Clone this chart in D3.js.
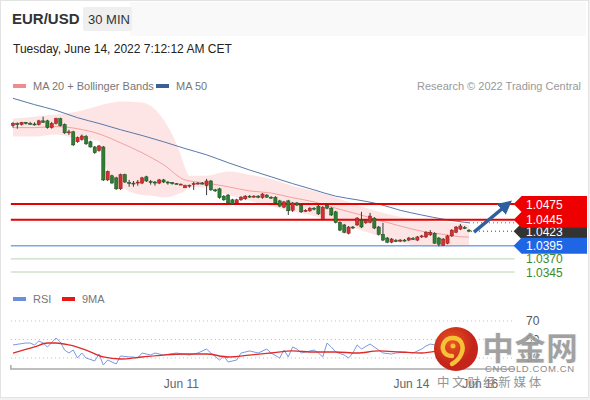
<!DOCTYPE html>
<html lang="en">
<head>
<meta charset="UTF-8" />
<title>EUR/USD 30 MIN</title>
<script src="https://d3js.org/d3.v7.min.js"></script>
<style>
  body { margin: 0; background: #f2f2f2; font-family: "Liberation Sans", Arial, sans-serif; }
  svg { display: block; }
</style>
</head>
<body>
<svg id="chart" width="590" height="400"></svg>
<script>
// 30 min candles, red = up, green = down
const opens = [
  1.0625,1.0629,1.0627,1.0631,1.0629,1.0628,1.0627,1.0634,1.0634,1.0621,
  1.0629,1.0638,1.0627,1.0612,1.0613,1.0594,1.0598,1.0604,1.0594,1.0584,
  1.0577,1.0584,1.0521,1.0529,1.0525,1.0504,1.0531,1.0516,1.0515,1.0515,
  1.0515,1.0527,1.0518,1.0517,1.0515,1.0521,1.0517,1.0516,1.0514,1.0513,
  1.0506,1.0510,1.0512,1.0514,1.0515,1.0510,1.0519,1.0502,1.0504,1.0490,
  1.0492,1.0483,1.0477,1.0483,1.0485,1.0490,1.0489,1.0490,1.0487,1.0492,
  1.0488,1.0488,1.0481,1.0469,1.0481,1.0463,1.0477,1.0473,1.0462,1.0462,
  1.0467,1.0471,1.0446,1.0473,1.0467,1.0460,1.0440,1.0435,1.0419,1.0431,
  1.0435,1.0444,1.0439,1.0440,1.0448,1.0431,1.0417,1.0410,1.0402,1.0405,
  1.0404,1.0406,1.0406,1.0409,1.0406,1.0413,1.0412,1.0416,1.0419,1.0410,
  1.0396,1.0400,1.0414,1.0421,1.0427,1.0430,1.0425];
const highs = [
  1.0632,1.0631,1.0632,1.0632,1.0632,1.0631,1.0636,1.0642,1.0636,1.0632,
  1.0640,1.0640,1.0629,1.0617,1.0615,1.0604,1.0608,1.0607,1.0596,1.0586,
  1.0588,1.0586,1.0539,1.0531,1.0527,1.0533,1.0533,1.0521,1.0519,1.0521,
  1.0527,1.0529,1.0521,1.0519,1.0523,1.0523,1.0519,1.0517,1.0515,1.0514,
  1.0512,1.0512,1.0517,1.0517,1.0517,1.0523,1.0521,1.0504,1.0506,1.0492,
  1.0494,1.0485,1.0485,1.0490,1.0492,1.0492,1.0492,1.0492,1.0496,1.0494,
  1.0490,1.0490,1.0483,1.0481,1.0483,1.0479,1.0479,1.0475,1.0465,1.0469,
  1.0469,1.0473,1.0471,1.0475,1.0469,1.0462,1.0442,1.0437,1.0433,1.0433,
  1.0450,1.0460,1.0446,1.0458,1.0450,1.0433,1.0439,1.0412,1.0410,1.0408,
  1.0408,1.0408,1.0412,1.0412,1.0414,1.0416,1.0423,1.0425,1.0421,1.0412,
  1.0410,1.0416,1.0427,1.0433,1.0437,1.0433,1.0427];
const lows = [
  1.0621,1.0619,1.0625,1.0627,1.0627,1.0625,1.0625,1.0630,1.0619,1.0619,
  1.0627,1.0623,1.0609,1.0607,1.0586,1.0592,1.0596,1.0588,1.0583,1.0571,
  1.0575,1.0519,1.0519,1.0514,1.0502,1.0502,1.0515,1.0508,1.0508,1.0510,
  1.0513,1.0517,1.0512,1.0510,1.0513,1.0515,1.0512,1.0512,1.0513,1.0512,
  1.0506,1.0506,1.0502,1.0512,1.0512,1.0492,1.0500,1.0498,1.0485,1.0481,
  1.0475,1.0473,1.0475,1.0481,1.0483,1.0487,1.0487,1.0486,1.0485,1.0487,
  1.0485,1.0475,1.0469,1.0467,1.0454,1.0460,1.0471,1.0458,1.0460,1.0460,
  1.0463,1.0454,1.0444,1.0465,1.0452,1.0438,1.0423,1.0419,1.0417,1.0427,
  1.0433,1.0429,1.0437,1.0438,1.0427,1.0415,1.0404,1.0400,1.0400,1.0402,
  1.0402,1.0403,1.0404,1.0406,1.0404,1.0410,1.0410,1.0414,1.0399,1.0394,
  1.0395,1.0398,1.0412,1.0419,1.0425,1.0427,1.0421];
const closes = [
  1.0629,1.0627,1.0631,1.0629,1.0628,1.0627,1.0634,1.0631,1.0621,1.0629,
  1.0638,1.0625,1.0611,1.0613,1.0588,1.0602,1.0605,1.0590,1.0584,1.0573,
  1.0586,1.0521,1.0537,1.0515,1.0504,1.0531,1.0517,1.0515,1.0514,1.0517,
  1.0525,1.0519,1.0517,1.0515,1.0521,1.0517,1.0516,1.0514,1.0513,1.0513,
  1.0510,1.0511,1.0514,1.0515,1.0514,1.0519,1.0502,1.0501,1.0487,1.0483,
  1.0477,1.0475,1.0483,1.0488,1.0490,1.0489,1.0490,1.0488,1.0494,1.0488,
  1.0487,1.0477,1.0471,1.0479,1.0462,1.0477,1.0473,1.0460,1.0463,1.0467,
  1.0466,1.0456,1.0469,1.0467,1.0454,1.0440,1.0425,1.0421,1.0431,1.0429,
  1.0448,1.0431,1.0444,1.0452,1.0429,1.0417,1.0406,1.0402,1.0408,1.0404,
  1.0406,1.0405,1.0410,1.0408,1.0412,1.0414,1.0421,1.0421,1.0400,1.0398,
  1.0408,1.0414,1.0425,1.0431,1.0433,1.0429,1.0423];

// indicator readings (candle index -> value)
const bandIdx = [0,5,10,15,20,21,22,25,30,33,35,37,39,40,41,45,50,55,60,65,70,75,80,85,90,95,100,105,106];
const bandUpper = [1.0638,1.0642,1.0646,1.0652,1.0663,1.0665,1.0667,1.0671,1.0669,1.0656,1.0636,1.0608,1.0569,1.0544,1.0529,
  1.0529,1.0537,1.0531,1.0523,1.0510,1.0500,1.0488,1.0473,1.0460,1.0450,1.0444,1.0440,1.0437,1.0435];
const bandLower = [1.0604,1.0604,1.0608,1.0600,1.0596,1.0559,1.0537,1.0510,1.0492,1.0490,1.0488,1.0490,1.0496,1.0500,1.0508,
  1.0506,1.0492,1.0481,1.0471,1.0460,1.0452,1.0440,1.0427,1.0414,1.0402,1.0394,1.0392,1.0394,1.0394];
const maIdx = [0,5,10,15,20,25,30,35,40,45,50,55,60,65,70,75,80,85,90,95,100,105,106];
const ma20 = [1.0621,1.0621,1.0623,1.0619,1.0609,1.0592,1.0573,1.0550,1.0521,1.0515,1.0508,1.0500,1.0496,1.0487,1.0479,
  1.0467,1.0456,1.0444,1.0433,1.0423,1.0417,1.0412,1.0412];
const ma50 = [1.0677,1.0665,1.0654,1.0640,1.0629,1.0617,1.0606,1.0594,1.0581,1.0569,1.0554,1.0540,1.0527,1.0514,1.0502,
  1.0490,1.0483,1.0475,1.0463,1.0454,1.0446,1.0440,1.0439];

const rsiIdx = [0,3,4,5,6,7,8,10,11,12,13,14,15,16,17,19,20,21,22,24,25,27,28,29,30,32,33,35,38,41,43,45,46,48,49,50,
  52,53,55,57,59,60,62,63,64,65,66,67,70,71,72,73,74,75,77,78,79,80,81,83,85,86,88,89,91,93,95,96,97,98,
  100,102,104,106];
const rsi = [44.1,46.2,46.2,44.1,48.4,46.2,41.9,51.6,47.3,38.6,35.4,38.6,30.0,35.4,30.0,26.8,34.3,22.4,27.8,23.5,32.2,31.1,
  31.1,30.0,35.4,33.2,35.4,33.2,35.4,33.2,35.4,39.7,35.4,27.8,32.2,25.7,27.8,35.4,37.6,35.4,39.7,35.4,30.0,38.6,31.1,
  41.9,39.7,35.4,38.6,35.4,31.1,46.2,41.9,36.5,33.2,30.0,35.4,44.1,39.7,45.1,38.6,35.4,34.3,35.4,36.5,35.4,39.7,43.0,
  45.1,44.1,42.0,52.0,58.0,54.0];
const rsiMaIdx = [0,5,8,10,13,17,21,25,30,35,40,45,50,55,60,65,70,75,80,85,90,95,100,106];
const rsiMa = [35.4,41.9,46.2,46.2,44.1,38.6,31.1,28.9,31.1,33.2,34.3,34.3,31.1,33.2,35.4,37.6,36.5,36.5,35.4,37.6,
  36.5,35.4,38.6,43.0];
const rsiLevels = [70, 50, 30];

const levels = [1.0475, 1.0445, 1.0395, 1.0370, 1.0345];
const levelKind = ['res', 'res', 'sup', 'tgt', 'tgt'];
const lastPrice = 1.0423;
const tickAt = [39, 92.5, 108.5];
const tickLabels = ['Jun 11', 'Jun 14', 'Jun 16'];

const svg = d3.select('#chart');
const x = d3.scaleLinear().domain([0, 106]).range([13, 469]);
const y = d3.scaleLinear().domain([1.0345, 1.0475]).range([272, 204]);
const yr = d3.scaleLinear().domain([30, 70]).range([358, 321]);
const lineEnd = x(116.6);

// card
svg.append('rect').attr('x', 0.5).attr('y', 0.5).attr('width', 588).attr('height', 397)
  .attr('fill', '#fff').attr('stroke', '#e3e3e3');
svg.append('rect').attr('x', 130).attr('y', 2).attr('width', 456).attr('height', 34)
  .attr('fill', '#f6f6f6').attr('opacity', 0.7);

// header
svg.append('text').attr('x', 12).attr('y', 24).attr('font-size', 15).attr('font-weight', 'bold')
  .attr('fill', '#333').text('EUR/USD');
svg.append('rect').attr('x', 83).attr('y', 7).attr('width', 49).attr('height', 24).attr('rx', 2).attr('fill', '#efefef');
svg.append('text').attr('x', 88).attr('y', 24).attr('font-size', 13).attr('fill', '#333').text('30 MIN');
svg.append('text').attr('x', 13).attr('y', 53).attr('font-size', 12).attr('fill', '#222')
  .text('Tuesday, June 14, 2022 7:12:12 AM CET');

// legends
function legend(lx, ly, color, label) {
  svg.append('rect').attr('x', lx).attr('y', ly - 6).attr('width', 13).attr('height', 4).attr('fill', color);
  svg.append('text').attr('x', lx + 20).attr('y', ly).attr('font-size', 11).attr('fill', '#777').text(label);
}
legend(13, 90, '#f28b8b', 'MA 20 + Bollinger Bands');
legend(156, 90, '#3b5f99', 'MA 50');
svg.append('text').attr('x', 581).attr('y', 90).attr('text-anchor', 'end').attr('font-size', 11)
  .attr('fill', '#999').text('Research © 2022 Trading Central');
legend(13, 303, '#6b8fdc', 'RSI');
legend(62, 303, '#e81818', '9MA');

// bollinger band + MAs
const band = bandIdx.map((d, i) => ({ i: d, hi: bandUpper[i], lo: bandLower[i] }));
svg.append('path').datum(band)
  .attr('fill', '#fde0e0').attr('opacity', 0.85)
  .attr('d', d3.area().curve(d3.curveMonotoneX).x(d => x(d.i)).y0(d => y(d.lo)).y1(d => y(d.hi)));
const maLine = d3.line().curve(d3.curveMonotoneX).x(d => x(d[0])).y(d => y(d[1]));
svg.append('path').datum(maIdx.map((d, i) => [d, ma20[i]]))
  .attr('fill', 'none').attr('stroke', '#f4a0a0').attr('stroke-width', 1).attr('d', maLine);
svg.append('path').datum(maIdx.map((d, i) => [d, ma50[i]]))
  .attr('fill', 'none').attr('stroke', '#5a78aa').attr('stroke-width', 1).attr('d', maLine);

// level lines
const levelStyle = {
  res: { stroke: '#e60000', width: 2 },
  sup: { stroke: '#7ea7ea', width: 1.5 },
  tgt: { stroke: '#b5d6ad', width: 1 }
};
svg.selectAll('.lvl').data(levels).join('line').attr('class', 'lvl')
  .attr('x1', x(-0.5)).attr('x2', lineEnd)
  .attr('y1', d => y(d)).attr('y2', d => y(d))
  .attr('stroke', (d, i) => levelStyle[levelKind[i]].stroke)
  .attr('stroke-width', (d, i) => levelStyle[levelKind[i]].width);

// dotted price guides
svg.append('line').attr('x1', x(106) + 2).attr('x2', lineEnd).attr('y1', y(lastPrice)).attr('y2', y(lastPrice))
  .attr('stroke', '#444').attr('stroke-dasharray', '1,3');
svg.append('line').attr('x1', x(106)).attr('x2', lineEnd).attr('y1', y(ma50[ma50.length - 1])).attr('y2', y(ma50[ma50.length - 1]))
  .attr('stroke', '#666').attr('stroke-dasharray', '1,3');

// candles
const idx = d3.range(closes.length);
const up = i => closes[i] >= opens[i];
svg.selectAll('.wick').data(idx).join('line').attr('class', 'wick')
  .attr('x1', i => x(i)).attr('x2', i => x(i))
  .attr('y1', i => y(highs[i])).attr('y2', i => y(lows[i]))
  .attr('stroke', '#3a3a3a').attr('stroke-width', 1);
svg.selectAll('.body').data(idx).join('rect').attr('class', 'body')
  .attr('x', i => x(i) - 1.6).attr('width', 3.2)
  .attr('y', i => y(Math.max(opens[i], closes[i])))
  .attr('height', i => Math.max(1, Math.abs(y(opens[i]) - y(closes[i]))))
  .attr('fill', i => up(i) ? '#d32f2f' : '#2e7d32')
  .attr('stroke', i => up(i) ? '#8e1c1c' : '#1b4d1e').attr('stroke-width', 0.5);

// trend arrow
svg.append('defs').append('marker').attr('id', 'ah').attr('viewBox', '0 0 10 10')
  .attr('refX', 5).attr('refY', 5).attr('markerWidth', 4).attr('markerHeight', 4).attr('orient', 'auto')
  .append('path').attr('d', 'M0,0L10,5L0,10z').attr('fill', '#2f5f9e');
svg.append('line').attr('x1', x(106) + 5).attr('y1', y(lastPrice) + 1)
  .attr('x2', lineEnd - 8).attr('y2', y(1.0475) + 1)
  .attr('stroke', '#2f5f9e').attr('stroke-width', 3.5).attr('marker-end', 'url(#ah)');

// price tags
const tags = [
  { v: lastPrice, fill: '#333333', text: '#fff' },
  { v: 1.0475, fill: '#ee0000', text: '#fff' },
  { v: 1.0445, fill: '#ee0000', text: '#fff' },
  { v: 1.0395, fill: '#1f66e5', text: '#fff' }
];
tags.forEach(t => {
  const cy = y(t.v), x0 = lineEnd - 1, h = 16;
  svg.append('path')
    .attr('d', `M${x0},${cy}L${x0 + 8},${cy - h / 2}H587V${cy + h / 2}H${x0 + 8}Z`)
    .attr('fill', t.fill);
  svg.append('text').attr('x', 526).attr('y', cy + 4.5).attr('font-size', 12).attr('fill', t.text)
    .text(t.v.toFixed(4));
});
levels.forEach((v, i) => {
  if (levelKind[i] !== 'tgt') return;
  svg.append('text').attr('x', 526).attr('y', y(v) + 4.5).attr('font-size', 12).attr('fill', '#3d8a2a')
    .text(v.toFixed(4));
});

// RSI panel
svg.selectAll('.rl').data(rsiLevels).join('line').attr('class', 'rl')
  .attr('x1', x(-0.5)).attr('x2', lineEnd).attr('y1', d => yr(d)).attr('y2', d => yr(d))
  .attr('stroke', '#bbb').attr('stroke-dasharray', '1,3');
svg.selectAll('.rlt').data(rsiLevels).join('text').attr('class', 'rlt')
  .attr('x', 526).attr('y', d => yr(d) + 4).attr('font-size', 12).attr('fill', '#555').text(d => d);
const rLine = d3.line().x(d => x(d[0])).y(d => yr(d[1]));
svg.append('path').datum(rsiIdx.map((d, i) => [d, rsi[i]]))
  .attr('fill', 'none').attr('stroke', '#7b98e0').attr('stroke-width', 1).attr('d', rLine);
svg.append('path').datum(rsiMaIdx.map((d, i) => [d, rsiMa[i]]))
  .attr('fill', 'none').attr('stroke', '#e02a2a').attr('stroke-width', 1.3)
  .attr('d', rLine.curve(d3.curveMonotoneX));

// time axis
const ax = svg.append('g').attr('transform', 'translate(0,369)')
  .call(d3.axisBottom(x).tickValues(tickAt).tickFormat((d, i) => tickLabels[i]).tickSize(0).tickPadding(10));
ax.select('.domain').attr('d', `M${x(-0.5)},-4V0H${lineEnd}`).attr('stroke', '#aaa').attr('stroke-width', 1.5);
ax.selectAll('text').attr('font-size', 12).attr('fill', '#666').attr('font-family', '"Liberation Sans", Arial, sans-serif');

// watermark
const wm = svg.append('g');
const grad = svg.select('defs').append('radialGradient').attr('id', 'lg').attr('cx', '40%').attr('cy', '35%');
grad.append('stop').attr('offset', '0%').attr('stop-color', '#e8561e');
grad.append('stop').attr('offset', '100%').attr('stop-color', '#c4241a');
wm.append('circle').attr('cx', 456).attr('cy', 349).attr('r', 22).attr('fill', 'url(#lg)');
wm.append('path').attr('d', 'M452,356 C444,356 441,349 444,343 C447,337 457,336 461,342 C465,349 461,359 452,364')
  .attr('fill', 'none').attr('stroke', '#f7c23a').attr('stroke-width', 4.5).attr('stroke-linecap', 'round');
wm.append('circle').attr('cx', 453).attr('cy', 346).attr('r', 2.5).attr('fill', '#f7c23a');
wm.append('text').attr('x', 482).attr('y', 360).attr('font-size', 32).attr('font-weight', 900)
  .attr('font-family', '"Noto Sans CJK SC", sans-serif').attr('fill', '#9a9a9a').attr('opacity', 0.92)
  .attr('stroke', '#fff').attr('stroke-width', 0.6).text('中金网');
wm.append('text').attr('x', 485).attr('y', 372).attr('font-size', 9.5).attr('letter-spacing', 0.6)
  .attr('fill', '#8a8a8a').text('CNGOLD.COM.CN');
wm.append('text').attr('x', 437).attr('y', 387).attr('font-size', 12.5)
  .attr('font-family', '"Noto Sans CJK SC", sans-serif').attr('fill', '#8a8a8a').attr('opacity', 0.9)
  .text('中 文 财 经 新 媒 体');
</script>
</body>
</html>
